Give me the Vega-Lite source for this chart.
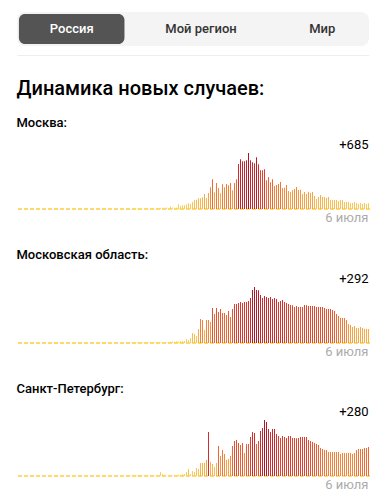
{
"$schema":"https://vega.github.io/schema/vega-lite/v6.json",
"padding":{"left":16,"top":12,"right":10,"bottom":0},
"background":"white",
"config":{"view":{"stroke":null},"font":"Roboto","title":{"anchor":"start","font":"Roboto","color":"#000000","subtitleFont":"Roboto","subtitleColor":"#000000"},"axis":{"grid":false}},
"datasets":{
"msk":[{"d":1,"v":0},{"d":2,"v":0},{"d":3,"v":0},{"d":4,"v":0},{"d":5,"v":0},{"d":6,"v":0},{"d":7,"v":0},{"d":8,"v":0},{"d":9,"v":0},{"d":10,"v":0},{"d":11,"v":0},{"d":12,"v":0},{"d":13,"v":0},{"d":14,"v":0},{"d":15,"v":0},{"d":16,"v":0},{"d":17,"v":0},{"d":18,"v":0},{"d":19,"v":0},{"d":20,"v":0},{"d":21,"v":0},{"d":22,"v":0},{"d":23,"v":0},{"d":24,"v":0},{"d":25,"v":0},{"d":26,"v":0},{"d":27,"v":0},{"d":28,"v":0},{"d":29,"v":0},{"d":30,"v":0},{"d":31,"v":0},{"d":32,"v":0},{"d":33,"v":0},{"d":34,"v":0},{"d":35,"v":0},{"d":36,"v":0},{"d":37,"v":0},{"d":38,"v":0},{"d":39,"v":0},{"d":40,"v":0},{"d":41,"v":0},{"d":42,"v":0},{"d":43,"v":0},{"d":44,"v":0},{"d":45,"v":0},{"d":46,"v":0},{"d":47,"v":0},{"d":48,"v":0},{"d":49,"v":0},
{"d":50,"v":1},{"d":51,"v":0},{"d":52,"v":0},{"d":53,"v":1},{"d":54,"v":3},{"d":55,"v":2},{"d":56,"v":1},{"d":57,"v":2},{"d":58,"v":3},{"d":59,"v":5},{"d":60,"v":6},{"d":61,"v":7},{"d":62,"v":8},{"d":63,"v":9},{"d":64,"v":10},{"d":65,"v":24},{"d":66,"v":15},{"d":67,"v":12},{"d":68,"v":33},{"d":69,"v":33},{"d":70,"v":54},
{"d":71,"v":120},{"d":72,"v":110},{"d":73,"v":150},{"d":74,"v":160},{"d":75,"v":170},{"d":76,"v":130},{"d":77,"v":320},{"d":78,"v":170},{"d":79,"v":170},{"d":80,"v":180},{"d":81,"v":560},{"d":82,"v":400},
{"d":83,"v":440},{"d":84,"v":440},{"d":85,"v":560},{"d":86,"v":680},{"d":87,"v":600},{"d":88,"v":840},{"d":89,"v":1040},{"d":90,"v":1120},{"d":91,"v":1280},{"d":92,"v":1290},
{"d":93,"v":1400},{"d":94,"v":1800},{"d":95,"v":1320},{"d":96,"v":1920},{"d":97,"v":2600},{"d":98,"v":3560},{"d":99,"v":2000},{"d":100,"v":3120},{"d":101,"v":2520},{"d":102,"v":1880},
{"d":103,"v":2960},{"d":104,"v":2600},{"d":105,"v":3000},{"d":106,"v":2840},{"d":107,"v":3120},{"d":108,"v":2240},{"d":109,"v":3110},{"d":110,"v":3560},{"d":111,"v":5400},{"d":112,"v":5960},
{"d":113,"v":5720},{"d":114,"v":5730},{"d":115,"v":5840},{"d":116,"v":6703},{"d":117,"v":5840},{"d":118,"v":5600},{"d":119,"v":5480},{"d":120,"v":6200},{"d":121,"v":5360},{"d":122,"v":4640},
{"d":123,"v":4650},{"d":124,"v":4760},{"d":125,"v":3440},{"d":126,"v":3800},{"d":127,"v":3200},{"d":128,"v":3560},{"d":129,"v":2760},{"d":130,"v":2880},
{"d":131,"v":3000},{"d":132,"v":3240},{"d":133,"v":2520},{"d":134,"v":2530},{"d":135,"v":2880},{"d":136,"v":2160},{"d":137,"v":2040},{"d":138,"v":2240},{"d":139,"v":2400},{"d":140,"v":2640},
{"d":141,"v":2280},{"d":142,"v":2290},{"d":143,"v":1800},{"d":144,"v":2040},{"d":145,"v":1810},{"d":146,"v":2050},{"d":147,"v":1920},{"d":148,"v":2040},{"d":149,"v":1560},{"d":150,"v":1200},
{"d":151,"v":1440},{"d":152,"v":1680},{"d":153,"v":1440},{"d":154,"v":1450},{"d":155,"v":1320},{"d":156,"v":1440},{"d":157,"v":1080},{"d":158,"v":1070},{"d":159,"v":1090},{"d":160,"v":1080},
{"d":161,"v":960},{"d":162,"v":1080},{"d":163,"v":1070},{"d":164,"v":840},{"d":165,"v":850},{"d":166,"v":840},{"d":167,"v":720},{"d":168,"v":730},{"d":169,"v":840},{"d":170,"v":720},
{"d":171,"v":600},{"d":172,"v":720},{"d":173,"v":610},{"d":174,"v":720},{"d":175,"v":600},{"d":176,"v":685}],
"mo":[{"d":1,"v":0},{"d":2,"v":0},{"d":3,"v":0},{"d":4,"v":0},{"d":5,"v":0},{"d":6,"v":0},{"d":7,"v":0},{"d":8,"v":0},{"d":9,"v":0},{"d":10,"v":0},{"d":11,"v":0},{"d":12,"v":0},{"d":13,"v":0},{"d":14,"v":0},{"d":15,"v":0},{"d":16,"v":0},{"d":17,"v":0},{"d":18,"v":0},{"d":19,"v":0},{"d":20,"v":0},{"d":21,"v":0},{"d":22,"v":0},{"d":23,"v":0},{"d":24,"v":0},{"d":25,"v":0},{"d":26,"v":0},{"d":27,"v":0},{"d":28,"v":0},{"d":29,"v":0},{"d":30,"v":0},{"d":31,"v":0},{"d":32,"v":0},{"d":33,"v":0},{"d":34,"v":0},{"d":35,"v":0},{"d":36,"v":0},{"d":37,"v":0},{"d":38,"v":0},{"d":39,"v":0},{"d":40,"v":0},{"d":41,"v":0},{"d":42,"v":0},{"d":43,"v":0},{"d":44,"v":0},{"d":45,"v":0},{"d":46,"v":0},{"d":47,"v":0},{"d":48,"v":0},{"d":49,"v":0},{"d":50,"v":0},
{"d":51,"v":1},{"d":52,"v":0},{"d":53,"v":1},{"d":54,"v":2},{"d":55,"v":1},{"d":56,"v":3},{"d":57,"v":2},{"d":58,"v":4},{"d":59,"v":3},{"d":60,"v":5},{"d":61,"v":6},{"d":62,"v":8},{"d":63,"v":9},
{"d":64,"v":18},{"d":65,"v":20},
{"d":66,"v":8},{"d":67,"v":10},{"d":68,"v":9},{"d":69,"v":12},{"d":70,"v":10},{"d":71,"v":14},{"d":72,"v":11},{"d":73,"v":13},{"d":74,"v":15},{"d":75,"v":12},
{"d":76,"v":20},{"d":77,"v":25},{"d":78,"v":30},{"d":79,"v":25},{"d":80,"v":35},{"d":81,"v":30},{"d":82,"v":40},
{"d":83,"v":42},{"d":84,"v":42},{"d":85,"v":83},{"d":86,"v":63},{"d":87,"v":104},{"d":88,"v":209},{"d":89,"v":188},{"d":90,"v":146},{"d":91,"v":292},{"d":92,"v":500},
{"d":93,"v":480},{"d":94,"v":271},{"d":95,"v":480},{"d":96,"v":482},{"d":97,"v":438},{"d":98,"v":730},{"d":99,"v":605},{"d":100,"v":730},{"d":101,"v":646},{"d":102,"v":709},
{"d":103,"v":626},{"d":104,"v":628},{"d":105,"v":584},{"d":106,"v":667},{"d":107,"v":542},{"d":108,"v":709},{"d":109,"v":813},{"d":110,"v":815},{"d":111,"v":834},{"d":112,"v":855},
{"d":113,"v":834},{"d":114,"v":855},{"d":115,"v":857},{"d":116,"v":876},{"d":117,"v":938},{"d":118,"v":1105},{"d":119,"v":1168},{"d":120,"v":1105},{"d":121,"v":1103},{"d":122,"v":1001},
{"d":123,"v":938},{"d":124,"v":980},{"d":125,"v":959},{"d":126,"v":938},{"d":127,"v":959},{"d":128,"v":917},{"d":129,"v":938},{"d":130,"v":917},
{"d":131,"v":855},{"d":132,"v":876},{"d":133,"v":897},{"d":134,"v":855},{"d":135,"v":834},{"d":136,"v":813},{"d":137,"v":792},{"d":138,"v":790},{"d":139,"v":751},{"d":140,"v":771},
{"d":141,"v":751},{"d":142,"v":753},{"d":143,"v":750},{"d":144,"v":792},{"d":145,"v":790},{"d":146,"v":771},{"d":147,"v":773},{"d":148,"v":770},{"d":149,"v":772},{"d":150,"v":751},
{"d":151,"v":752},{"d":152,"v":750},{"d":153,"v":751},{"d":154,"v":730},{"d":155,"v":709},{"d":156,"v":710},{"d":157,"v":708},{"d":158,"v":688},{"d":159,"v":667},{"d":160,"v":605},
{"d":161,"v":563},{"d":162,"v":521},{"d":163,"v":523},{"d":164,"v":520},{"d":165,"v":480},{"d":166,"v":396},{"d":167,"v":375},{"d":168,"v":334},{"d":169,"v":354},{"d":170,"v":313},
{"d":171,"v":315},{"d":172,"v":334},{"d":173,"v":313},{"d":174,"v":296},{"d":175,"v":294},{"d":176,"v":292}],
"spb":[{"d":1,"v":0},{"d":2,"v":0},{"d":3,"v":0},{"d":4,"v":0},{"d":5,"v":0},{"d":6,"v":0},{"d":7,"v":0},{"d":8,"v":0},{"d":9,"v":0},{"d":10,"v":0},{"d":11,"v":0},{"d":12,"v":0},{"d":13,"v":0},{"d":14,"v":0},{"d":15,"v":0},{"d":16,"v":0},{"d":17,"v":0},{"d":18,"v":0},{"d":19,"v":0},{"d":20,"v":0},{"d":21,"v":0},{"d":22,"v":0},{"d":23,"v":0},{"d":24,"v":0},{"d":25,"v":0},{"d":26,"v":0},{"d":27,"v":0},{"d":28,"v":0},{"d":29,"v":0},{"d":30,"v":0},{"d":31,"v":0},{"d":32,"v":0},{"d":33,"v":0},{"d":34,"v":0},{"d":35,"v":0},{"d":36,"v":0},{"d":37,"v":0},{"d":38,"v":0},{"d":39,"v":0},{"d":40,"v":0},{"d":41,"v":0},{"d":42,"v":0},{"d":43,"v":0},{"d":44,"v":0},{"d":45,"v":0},{"d":46,"v":0},{"d":47,"v":0},{"d":48,"v":0},{"d":49,"v":0},{"d":50,"v":0},
{"d":51,"v":1},{"d":52,"v":0},{"d":53,"v":2},{"d":54,"v":1},{"d":55,"v":3},{"d":56,"v":2},{"d":57,"v":4},{"d":58,"v":3},{"d":59,"v":5},{"d":60,"v":4},{"d":61,"v":6},{"d":62,"v":5},{"d":63,"v":3},{"d":64,"v":7},{"d":65,"v":5},{"d":66,"v":6},{"d":67,"v":8},{"d":68,"v":4},{"d":69,"v":6},{"d":70,"v":7},{"d":71,"v":5},
{"d":72,"v":39},{"d":73,"v":19},{"d":74,"v":13},{"d":75,"v":3},{"d":76,"v":5},{"d":77,"v":4},{"d":78,"v":6},{"d":79,"v":5},{"d":80,"v":7},{"d":81,"v":13},{"d":82,"v":13},
{"d":83,"v":19},{"d":84,"v":19},{"d":85,"v":39},{"d":86,"v":68},{"d":87,"v":19},{"d":88,"v":48},{"d":89,"v":39},{"d":90,"v":77},{"d":91,"v":68},{"d":92,"v":126},
{"d":93,"v":126},{"d":94,"v":127},{"d":95,"v":155},{"d":96,"v":425},{"d":97,"v":135},{"d":98,"v":116},{"d":99,"v":87},{"d":100,"v":126},{"d":101,"v":290},{"d":102,"v":193},
{"d":103,"v":251},{"d":104,"v":213},{"d":105,"v":155},{"d":106,"v":164},{"d":107,"v":193},{"d":108,"v":290},{"d":109,"v":338},{"d":110,"v":348},{"d":111,"v":319},{"d":112,"v":299},
{"d":113,"v":319},{"d":114,"v":222},{"d":115,"v":309},{"d":116,"v":310},{"d":117,"v":377},{"d":118,"v":425},{"d":119,"v":415},{"d":120,"v":309},{"d":121,"v":338},{"d":122,"v":435},
{"d":123,"v":464},{"d":124,"v":541},{"d":125,"v":522},{"d":126,"v":454},{"d":127,"v":425},{"d":128,"v":454},{"d":129,"v":455},{"d":130,"v":406},{"d":131,"v":386},{"d":132,"v":367},
{"d":133,"v":386},{"d":134,"v":377},{"d":135,"v":367},{"d":136,"v":386},{"d":137,"v":387},{"d":138,"v":367},{"d":139,"v":368},{"d":140,"v":366},{"d":141,"v":367},{"d":142,"v":377},
{"d":143,"v":378},{"d":144,"v":376},{"d":145,"v":377},{"d":146,"v":348},{"d":147,"v":338},{"d":148,"v":328},{"d":149,"v":319},{"d":150,"v":309},{"d":151,"v":299},{"d":152,"v":270},
{"d":153,"v":261},{"d":154,"v":251},{"d":155,"v":252},{"d":156,"v":232},{"d":157,"v":233},{"d":158,"v":231},{"d":159,"v":232},{"d":160,"v":233},{"d":161,"v":232},{"d":162,"v":213},
{"d":163,"v":222},{"d":164,"v":223},{"d":165,"v":221},{"d":166,"v":222},{"d":167,"v":223},{"d":168,"v":213},{"d":169,"v":222},{"d":170,"v":251},{"d":171,"v":261},{"d":172,"v":262},
{"d":173,"v":261},{"d":174,"v":270},{"d":175,"v":271},{"d":176,"v":280}]
},
"spacing":24,
"vconcat":[
{
"width":352,"height":34,
"view":{"fill":"#f4f4f4","cornerRadius":8,"stroke":null},
"data":{"values":[{"tab":"Россия","sel":1,"row":"a"},{"tab":"Мой регион","sel":0,"row":"a"},{"tab":"Мир","sel":0,"row":"a"}]},
"encoding":{
"x":{"field":"tab","type":"nominal","sort":null,"scale":{"domain":["Россия","Мой регион","Мир"],"paddingInner":0.13,"paddingOuter":0.016},"axis":{"labels":false,"ticks":false,"domain":true,"domainColor":"#eeeeee","offset":9,"title":null}}
},
"layer":[
{"transform":[{"filter":"datum.sel == 1"}],
"mark":{"type":"bar","color":"#545454","cornerRadius":6},
"encoding":{
"y":{"field":"row","type":"nominal","scale":{"paddingOuter":0.0667,"paddingInner":0},"axis":null}}},
{"transform":[{"filter":"datum.sel == 1"}],
"mark":{"type":"text","fontSize":13,"fontWeight":500,"font":"Roboto","color":"#ffffff"},
"encoding":{"text":{"field":"tab"}}},
{"transform":[{"filter":"datum.sel == 0"}],
"mark":{"type":"text","fontSize":13,"fontWeight":500,"font":"Roboto","color":"#333333","dx":8},
"encoding":{"text":{"field":"tab"}}}
]
},
{
"width":353,"height":72,
"title":{"text":"Динамика новых случаев:","subtitle":"Москва:","fontSize":20,"fontWeight":500,"subtitleFontSize":13,"subtitleFontWeight":500,"subtitlePadding":18,"offset":7,"anchor":"start"},
"data":{"name":"msk"},
"encoding":{"x":{"field":"d","type":"ordinal","scale":{"paddingInner":0.5,"paddingOuter":0.5},"axis":null}},
"layer":[
{"mark":{"type":"rule","color":"#fcd96e","strokeDash":[4,2],"strokeWidth":1},"encoding":{"x":null,"y":{"datum":0,"axis":null}}},
{"mark":{"type":"bar"},
"encoding":{
"y":{"field":"v","type":"quantitative","scale":{"domain":[0,8618],"nice":false},"axis":null},
"color":{"field":"v","type":"quantitative","scale":{"range":["#fcd86a","#f9ad48","#f06c37","#d8312c","#a9162b"]},"legend":null}}},
{"transform":[{"filter":"datum.d == 176"}],
"mark":{"type":"text","align":"right","baseline":"top","fontSize":13,"color":"#000000","dy":2},
"encoding":{"y":{"datum":8618,"axis":null},"text":{"field":"v","type":"quantitative","format":"+d"}}},
{"transform":[{"filter":"datum.d == 176"}],
"mark":{"type":"text","align":"right","baseline":"top","fontSize":13,"color":"#ababab","dy":3},
"encoding":{"y":{"datum":0,"axis":null},"text":{"value":"6 июля"}}}
]
},
{
"width":353,"height":72,
"title":{"text":"Московская область:","fontSize":13,"fontWeight":500,"offset":9,"anchor":"start"},
"data":{"name":"mo"},
"encoding":{"x":{"field":"d","type":"ordinal","scale":{"paddingInner":0.5,"paddingOuter":0.5},"axis":null}},
"layer":[
{"mark":{"type":"rule","color":"#fcd96e","strokeDash":[4,2],"strokeWidth":1},"encoding":{"x":null,"y":{"datum":0,"axis":null}}},
{"mark":{"type":"bar"},
"encoding":{
"y":{"field":"v","type":"quantitative","scale":{"domain":[0,1502],"nice":false},"axis":null},
"color":{"field":"v","type":"quantitative","scale":{"range":["#fcd86a","#f9ad48","#f06c37","#d8312c","#a9162b"]},"legend":null}}},
{"transform":[{"filter":"datum.d == 176"}],
"mark":{"type":"text","align":"right","baseline":"top","fontSize":13,"color":"#000000","dy":2},
"encoding":{"y":{"datum":1502,"axis":null},"text":{"field":"v","type":"quantitative","format":"+d"}}},
{"transform":[{"filter":"datum.d == 176"}],
"mark":{"type":"text","align":"right","baseline":"top","fontSize":13,"color":"#ababab","dy":3},
"encoding":{"y":{"datum":0,"axis":null},"text":{"value":"6 июля"}}}
]
},
{
"width":353,"height":72,
"title":{"text":"Санкт-Петербург:","fontSize":13,"fontWeight":500,"offset":8,"anchor":"start"},
"data":{"name":"spb"},
"encoding":{"x":{"field":"d","type":"ordinal","scale":{"paddingInner":0.5,"paddingOuter":0.5},"axis":null}},
"layer":[
{"mark":{"type":"rule","color":"#fcd96e","strokeDash":[4,2],"strokeWidth":1},"encoding":{"x":null,"y":{"datum":0,"axis":null}}},
{"mark":{"type":"bar"},
"encoding":{
"y":{"field":"v","type":"quantitative","scale":{"domain":[0,696],"nice":false},"axis":null},
"color":{"field":"v","type":"quantitative","scale":{"range":["#fcd86a","#f9ad48","#f06c37","#d8312c","#a9162b"]},"legend":null}}},
{"transform":[{"filter":"datum.d == 176"}],
"mark":{"type":"text","align":"right","baseline":"top","fontSize":13,"color":"#000000","dy":2},
"encoding":{"y":{"datum":696,"axis":null},"text":{"field":"v","type":"quantitative","format":"+d"}}},
{"transform":[{"filter":"datum.d == 176"}],
"mark":{"type":"text","align":"right","baseline":"top","fontSize":13,"color":"#ababab","dy":3},
"encoding":{"y":{"datum":0,"axis":null},"text":{"value":"6 июля"}}}
]
}
],
"resolve":{"scale":{"color":"independent"}}
}
